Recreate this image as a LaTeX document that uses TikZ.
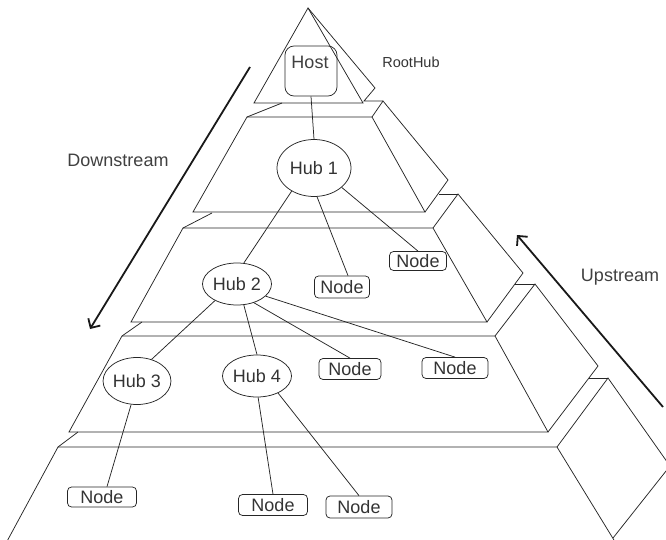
\documentclass[tikz,border=0pt]{standalone}
\usepackage{fontspec}
\setmainfont{Liberation Sans}
\usetikzlibrary{arrows.meta,shapes.geometric}
\begin{document}
\begin{tikzpicture}[x=1pt,y=-1pt,
  face/.style={line width=0.75pt, draw=black!85, line join=miter},
  edge/.style={line width=0.75pt, draw=black!85},
  hub/.style={ellipse, draw=black!85, line width=0.75pt, inner sep=0pt, font=\fontsize{18}{20}\selectfont, text=black!80},
  leaf/.style={rectangle, rounded corners=4pt, draw=black!85, line width=0.75pt, inner sep=0pt, font=\fontsize{18}{20}\selectfont, text=black!80},
  lbl/.style={font=\fontsize{18}{20}\selectfont, inner sep=0pt, text=black!75},
  flow/.style={line width=1.8pt, draw=black!90, -{Straight Barb[length=7pt,width=14pt]}}
]
\useasboundingbox (0,0) rectangle (666,540);
\clip (0,0) rectangle (666,540);

% layer 1 (top pyramid)
\draw[face] (308,8) -- (254,103) -- (363,103) -- cycle;
\draw[face] (308,8) -- (375,88) -- (364,101) -- (383,101);
% layer 2
\draw[face] (247,117) -- (372,117) -- (425,212) -- (193,212) -- cycle;
\draw[face] (372,117) -- (383,101) -- (448,180) -- (425,212);
\draw[face] (282,103) -- (247,117);
\draw[face] (439,194) -- (458,194);
% layer 3
\draw[face] (183,228) -- (433,228) -- (487,322) -- (131,322) -- cycle;
\draw[face] (433,228) -- (458,194) -- (523,273) -- (487,322);
\draw[face] (212,213) -- (183,228);
\draw[face] (515,284) -- (535,284);
% layer 4
\draw[face] (122,336) -- (495,336) -- (548,432) -- (69,432) -- cycle;
\draw[face] (495,336) -- (535,284) -- (598,366) -- (548,432);
\draw[face] (142,322) -- (122,336);
\draw[face] (589,378) -- (608,378);
% layer 5
\draw[face] (5,545) -- (58,447) -- (557,447) -- (617,545);
\draw[face] (557,447) -- (608,378) -- (670,466) -- (613,538);
\draw[face] (78,432) -- (58,447);

% nodes
\node[rectangle, rounded corners=9pt, draw=black!85, line width=0.75pt, minimum width=52pt, minimum height=50pt] (host) at (311,71) {};
\node[lbl] (hostlbl) at (310,62) {Host};
\node[font=\fontsize{14.5}{16}\selectfont, inner sep=0pt, text=black!80] (roothub) at (411,62) {RootHub};

\node[hub, minimum width=74pt, minimum height=57pt] (hub1) at (314,168) {Hub 1};
\node[hub, minimum width=69pt, minimum height=42pt] (hub2) at (237,284) {Hub 2};
\node[hub, minimum width=65pt, minimum height=47pt] (hub3) at (137,381) {Hub 3};
\node[hub, minimum width=69pt, minimum height=42pt] (hub4) at (257,376) {Hub 4};

\node[leaf, minimum width=55pt, minimum height=22pt] (na) at (342,287) {Node};
\node[leaf, minimum width=57pt, minimum height=19pt] (nb) at (418,261) {Node};
\node[leaf, minimum width=62pt, minimum height=21pt] (nc) at (350,369) {Node};
\node[leaf, minimum width=66pt, minimum height=21pt] (nd) at (455,368) {Node};
\node[leaf, minimum width=69pt, minimum height=20pt] (ne) at (102,497) {Node};
\node[leaf, minimum width=69pt, minimum height=21pt] (nf) at (273,505) {Node};
\node[leaf, minimum width=66pt, minimum height=22pt] (ng) at (359,507) {Node};

% connectors
\draw[edge] (host.south) -- (hub1.north);
\draw[edge] (hub1.-134) -- (hub2.72);
\draw[edge] (hub1.-84) -- ([xshift=6pt]na.north);
\draw[edge] (hub1.-35) -- (nb.north);
\draw[edge] (hub2.-143) -- (hub3.56);
\draw[edge] (hub2.-72) -- (hub4.north);
\draw[edge] (hub2.-48) -- (nc.north);
\draw[edge] (hub2.-23) -- (nd.north);
\draw[edge] (hub3.-104) -- ([xshift=5pt]ne.north);
\draw[edge] (hub4.-87) -- (nf.north);
\draw[edge] (hub4.-39) -- (ng.north);

% flow arrows
\coordinate (dsA) at (250,67);
\coordinate (dsB) at (90,329);
\coordinate (usA) at (663,407);
\coordinate (usB) at (517,235);
\draw[flow] (dsA) -- (dsB);
\draw[flow] (usA) -- (usB);
\node[lbl] (down) at (118,160) {Downstream};
\node[lbl] (up) at (620,277) {Upstream};
\end{tikzpicture}
\end{document}
